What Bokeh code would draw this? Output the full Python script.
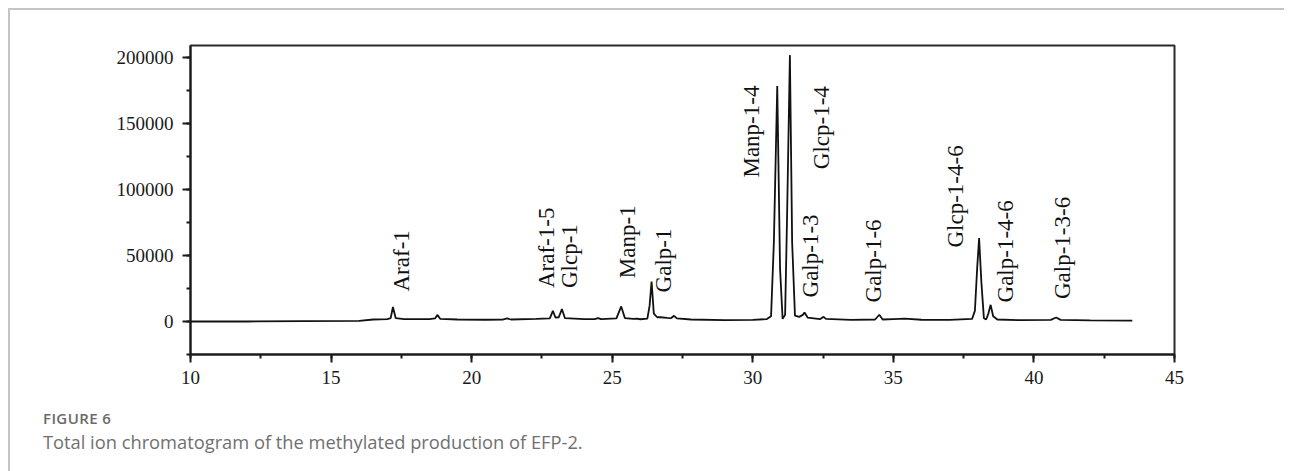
from bokeh.plotting import figure
from bokeh.models import Range1d, SingleIntervalTicker, BasicTickFormatter, ColumnDataSource, Div
from bokeh.layouts import column
from bokeh.core.properties import value
from bokeh.embed import file_html
from bokeh.resources import INLINE
import math

# Retention time (min) and intensity
rt = [10.0, 12.0, 14.0, 16.0, 16.5, 17.0, 17.12, 17.2, 17.3, 17.6,
      18.5, 18.7, 18.78, 18.88, 19.5, 20.5, 21.1, 21.26, 21.4, 22.3,
      22.78, 22.89, 22.98, 23.1, 23.21, 23.32, 24.0, 24.4, 24.5, 24.6,
      25.15, 25.32, 25.45, 25.75, 25.88, 26.0, 26.25, 26.33, 26.4, 26.48,
      26.6, 26.72, 26.95, 27.1, 27.2, 27.3, 27.8, 29.0, 30.0, 30.5,
      30.65, 30.75, 30.87, 30.97, 31.06, 31.15, 31.22, 31.32, 31.4, 31.5,
      31.65, 31.78, 31.84, 31.95, 32.4, 32.52, 32.6, 33.5, 34.35, 34.5,
      34.62, 35.0, 35.4, 36.0, 37.0, 37.8, 37.9, 37.98, 38.05, 38.13,
      38.22, 38.3, 38.38, 38.46, 38.55, 38.7, 39.5, 40.6, 40.79, 40.95,
      42.0, 43.5]
intensity = [0, 0, 200, 500, 1500, 1800, 2500, 11000, 2500, 1800,
             1800, 2300, 5000, 2000, 1500, 1300, 1400, 2400, 1500, 2000,
             2300, 8100, 3000, 3200, 9400, 2500, 1800, 1900, 2600, 1800,
             2300, 11400, 2600, 1900, 2200, 1700, 2200, 12000, 30300, 6000,
             3200, 3200, 2800, 2600, 4300, 2400, 1500, 1000, 1200, 1800,
             4000, 60000, 178300, 40000, 2000, 5000, 80000, 201700, 60000, 4500,
             3500, 5000, 6800, 3000, 1800, 3500, 2000, 1200, 1500, 5100,
             1500, 1800, 2100, 1300, 1200, 2000, 8000, 40000, 63100, 30000,
             2500, 1500, 6000, 12600, 4000, 1500, 1000, 1200, 3000, 1200,
             800, 700]

# Peak annotations
peak_names = ["Araf-1", "Araf-1-5", "Glcp-1", "Manp-1", "Galp-1", "Manp-1-4",
              "Glcp-1-4", "Galp-1-3", "Galp-1-6", "Glcp-1-4-6", "Galp-1-4-6", "Galp-1-3-6"]
label_x = [17.5, 22.65, 23.48, 25.53, 26.84, 29.94, 32.43, 32.04, 34.31, 37.2, 38.99, 41.0]
label_y = [22700, 25300, 25300, 32800, 22000, 109000, 115300, 18200, 14400, 56000, 14400, 17000]

x_ticks_interval = 5
y_ticks_interval = 50000

caption_head = "FIGURE 6"
caption_text = "Total ion chromatogram of the methylated production of EFP-2."

p = figure(width=1274, height=380, output_backend="svg", toolbar_location=None,
           x_range=Range1d(10, 45), y_range=Range1d(-25000, 209000),
           min_border_left=180, min_border_right=110, min_border_top=35, min_border_bottom=36)

p.grid.visible = False
p.background_fill_color = "white"
p.border_fill_color = "white"
p.outline_line_color = "#2a2a2a"
p.outline_line_width = 2

p.xaxis.ticker = SingleIntervalTicker(interval=x_ticks_interval, num_minor_ticks=2)
p.yaxis.ticker = SingleIntervalTicker(interval=y_ticks_interval, num_minor_ticks=2)
p.yaxis.formatter = BasicTickFormatter(use_scientific=False)
for ax in (p.xaxis, p.yaxis):
    ax.axis_line_width = 2
    ax.axis_line_color = "#1a1a1a"
    ax.major_tick_line_width = 2
    ax.minor_tick_line_width = 2
    ax.major_tick_line_color = "#1a1a1a"
    ax.minor_tick_line_color = "#1a1a1a"
    ax.major_tick_in = 0
    ax.major_tick_out = 8
    ax.minor_tick_in = 0
    ax.minor_tick_out = 4
    ax.major_label_text_font = "Liberation Serif"
    ax.major_label_text_font_size = "19px"
    ax.major_label_text_color = "#1a1a1a"
p.xaxis.major_label_standoff = 8
p.yaxis.major_label_standoff = 9

src = ColumnDataSource(dict(x=rt, y=intensity))
p.line("x", "y", source=src, line_color="#111111", line_width=1.8)

lsrc = ColumnDataSource(dict(x=label_x, y=label_y, t=peak_names))
p.text("x", "y", text="t", source=lsrc, angle=math.pi / 2,
       text_font=value("Liberation Serif"), text_font_size="23px",
       text_color="#111111", text_align="left", text_baseline="middle")

caption = Div(
    text=(f'<div style="font-family:\'Open Sans\';font-weight:600;font-size:15px;'
          f'letter-spacing:0.4px;color:#6a6a6a;line-height:20px;">{caption_head}</div>'
          f'<div style="font-family:\'Open Sans\';font-size:18.3px;color:#707070;'
          f'line-height:24px;margin-top:2px;">{caption_text}</div>'),
    width=900, height=75,
    styles={"padding-left": "28px", "padding-top": "13px"},
)

layout = column(p, caption, spacing=0,
                styles={"margin-left": "8px", "margin-top": "8px",
                        "border-top": "2px solid #c4c4c4", "border-left": "2px solid #c4c4c4"})

open("out.html", "w").write(file_html(layout, INLINE))
